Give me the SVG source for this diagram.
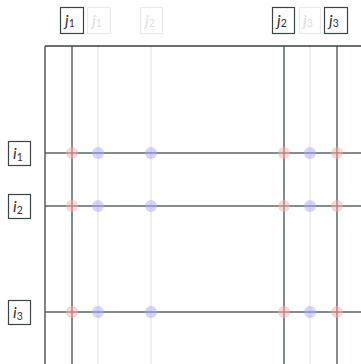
<svg xmlns="http://www.w3.org/2000/svg" width="361" height="364" viewBox="0 0 361 364">
<style>
.bg{fill:#ffffff}
.axis{stroke:#3a4242;stroke-width:1.3;fill:none}
.dark{stroke:#5a6464;stroke-width:1.5;fill:none}
.light{stroke:#e4e4e4;stroke-width:1.2;fill:none}
.box{fill:#ffffff;stroke:#3a4444;stroke-width:1.2}
.lbox{fill:#ffffff;stroke:#ebebeb;stroke-width:1.2}
.t{font-family:Lato,"Liberation Sans",sans-serif;font-style:italic;font-size:16px;fill:#333333}
.lt{font-family:Lato,"Liberation Sans",sans-serif;font-style:italic;font-size:16px;fill:#dedede}
.sub{font-size:10.5px;font-style:normal}
.r{fill:#ffaaaa;fill-opacity:0.5}
.b{fill:#aaaaff;fill-opacity:0.5}
</style>
<rect class="bg" x="0" y="0" width="361" height="364"/>
<g id="connectors">
<line class="light" x1="98" y1="46" x2="98" y2="364"/>
<line class="light" x1="151" y1="46" x2="151" y2="364"/>
<line class="light" x1="310" y1="46" x2="310" y2="364"/>
<line class="dark" x1="72" y1="46" x2="72" y2="364"/>
<line class="dark" x1="284" y1="46" x2="284" y2="364"/>
<line class="dark" x1="337" y1="46" x2="337" y2="364"/>
<line class="dark" x1="45" y1="153" x2="361" y2="153"/>
<line class="dark" x1="45" y1="206" x2="361" y2="206"/>
<line class="dark" x1="45" y1="312" x2="361" y2="312"/>
<line class="axis" x1="45" y1="46" x2="361" y2="46"/>
<line class="axis" x1="45" y1="46" x2="45" y2="364"/>
</g>
<g id="dots">
<circle class="r" cx="72" cy="153" r="6"/><circle class="b" cx="98" cy="153" r="6"/><circle class="b" cx="151" cy="153" r="6"/><circle class="r" cx="284" cy="153" r="6"/><circle class="b" cx="310" cy="153" r="6"/><circle class="r" cx="337" cy="153" r="6"/>
<circle class="r" cx="72" cy="206" r="6"/><circle class="b" cx="98" cy="206" r="6"/><circle class="b" cx="151" cy="206" r="6"/><circle class="r" cx="284" cy="206" r="6"/><circle class="b" cx="310" cy="206" r="6"/><circle class="r" cx="337" cy="206" r="6"/>
<circle class="r" cx="72" cy="312" r="6"/><circle class="b" cx="98" cy="312" r="6"/><circle class="b" cx="151" cy="312" r="6"/><circle class="r" cx="284" cy="312" r="6"/><circle class="b" cx="310" cy="312" r="6"/><circle class="r" cx="337" cy="312" r="6"/>
</g>
<g id="col-j1"><rect class="box" x="60.5" y="7.5" width="23" height="26"/><text class="t" x="65" y="26">j<tspan class="sub" dy="1">1</tspan></text></g>
<g id="col-j1-ghost"><rect class="lbox" x="87.5" y="7.5" width="23" height="26"/><text class="lt" x="92" y="26">j<tspan class="sub" dy="1">1</tspan></text></g>
<g id="col-j2-ghost"><rect class="lbox" x="140.5" y="7.5" width="22" height="26"/><text class="lt" x="145" y="26">j<tspan class="sub" dy="1">2</tspan></text></g>
<g id="col-j2"><rect class="box" x="272.5" y="7.5" width="22" height="26"/><text class="t" x="277" y="26">j<tspan class="sub" dy="1">2</tspan></text></g>
<g id="col-j3-ghost"><rect class="lbox" x="299.5" y="7.5" width="21" height="26"/><text class="lt" x="303" y="26">j<tspan class="sub" dy="1">3</tspan></text></g>
<g id="col-j3"><rect class="box" x="324.5" y="7.5" width="23" height="26"/><text class="t" x="329" y="26">j<tspan class="sub" dy="1">3</tspan></text></g>
<g id="row-i1"><rect class="box" x="8.5" y="141.5" width="22" height="24"/><text class="t" x="13" y="159">i<tspan class="sub" dy="2">1</tspan></text></g>
<g id="row-i2"><rect class="box" x="8.5" y="194.5" width="22" height="24"/><text class="t" x="13" y="212">i<tspan class="sub" dy="2">2</tspan></text></g>
<g id="row-i3"><rect class="box" x="8.5" y="300.5" width="22" height="24"/><text class="t" x="13" y="318">i<tspan class="sub" dy="2">3</tspan></text></g>
</svg>
